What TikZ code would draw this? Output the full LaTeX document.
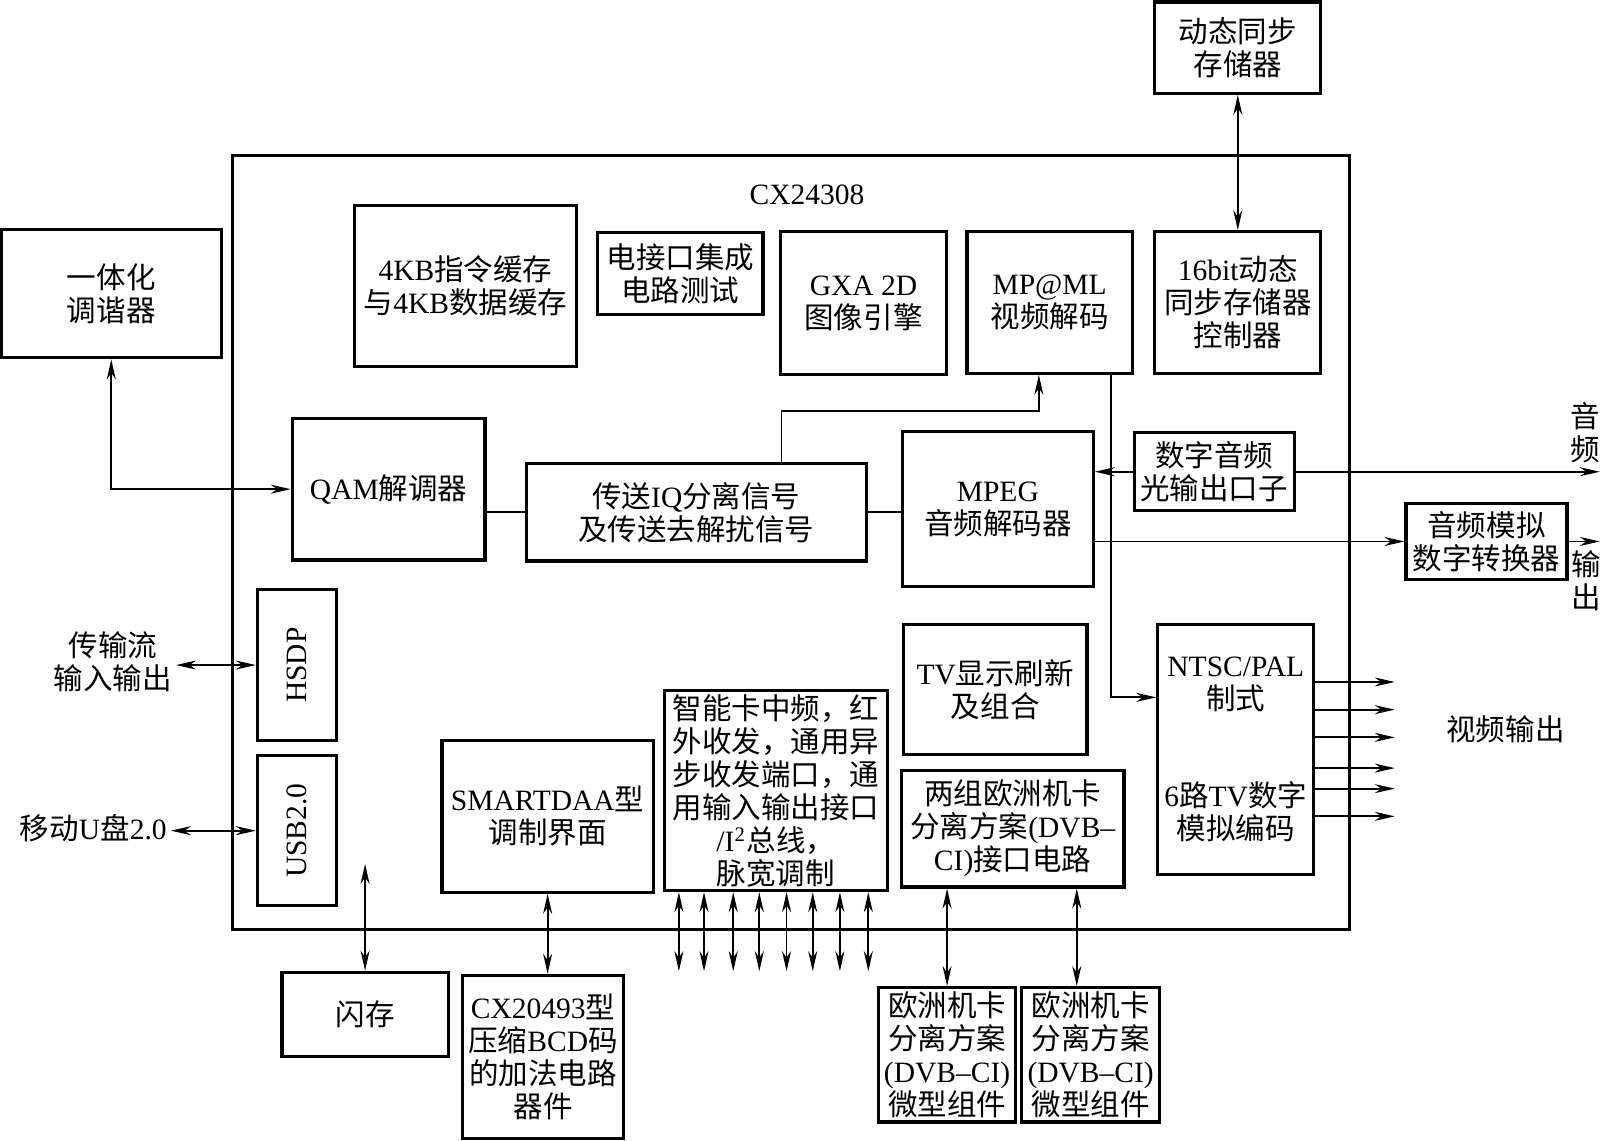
\documentclass[tikz,border=0pt]{standalone}
\usepackage{fontspec}
\usepackage{graphicx}
\setmainfont{Liberation Serif}
\newfontfamily\cjk{Noto Sans CJK SC}
\newcommand\zh[1]{{\cjk #1}}
\newlength\pxl
\setlength\pxl{0.10255mm}
\usetikzlibrary{arrows.meta}

\begin{document}
\begin{tikzpicture}[
  x=0.10255mm, y=-0.10255mm,
  font=\fontsize{8.4}{9.4}\selectfont,
  box/.style 2 args={draw, line width=0.9pt, align=center, inner sep=1pt,
    minimum width=#1*\pxl, minimum height=#2*\pxl},
  lbl/.style={align=center, inner sep=1pt},
  link/.style={line width=0.5pt},
  arrow/.style={-{Stealth[length=2mm,width=0.9mm]}, line width=0.5pt},
  darrow/.style={{Stealth[length=2mm,width=0.9mm]}-{Stealth[length=2mm,width=0.9mm]}, line width=0.5pt}
]
  \useasboundingbox (0,0) rectangle (1568,1112);

  \node[box={1089}{754}] (chip) at (771.5,529) {};
  \node[lbl] (chipname) at (787,190) {CX24308};

  \node[box={162}{89}] (dram) at (1207,46.5) {\zh{动态同步}\\\zh{存储器}};
  \node[box={215}{125}] (tuner) at (108.5,286.5) {\zh{一体化}\\\zh{调谐器}};
  \node[box={216}{157}] (cache) at (454,278.5) {4KB\zh{指令缓存}\\\zh{与}4KB\zh{数据缓存}};
  \node[box={161}{80}] (jtag) at (663.5,267) {\zh{电接口集成}\\\zh{电路测试}};
  \node[box={162}{139}] (gxa) at (842,295.5) {GXA 2D\\\zh{图像引擎}};
  \node[box={161}{138}] (mpml) at (1023.5,295) {MP@ML\\\zh{视频解码}};
  \node[box={162}{138}] (sdramc) at (1207,295) {16bit\zh{动态}\\\zh{同步存储器}\\\zh{控制器}};

  \node[box={188}{138}] (qam) at (379,477) {QAM\zh{解调器}};
  \node[box={332}{95}] (iq) at (679,499.5) {\zh{传送}IQ\zh{分离信号}\\\zh{及传送去解扰信号}};
  \node[box={186}{151}] (mpeg) at (973,496.5) {MPEG\\\zh{音频解码器}};
  \node[box={156}{76}] (spdif) at (1184,460) {\zh{数字音频}\\\zh{光输出口子}};
  \node[box={157}{74}] (dac) at (1449.5,528) {\zh{音频模拟}\\\zh{数字转换器}};

  \node[box={77}{147}] (hsdp) at (289.5,648.5) {\rotatebox{90}{HSDP}};
  \node[box={77}{146}] (usb) at (289.5,810) {\rotatebox{90}{USB2.0}};
  \node[box={206}{148}] (smart) at (534,796) {SMARTDAA\zh{型}\\\zh{调制界面}};
  \node[box={217}{186}] (periph) at (756.5,771)
    {\zh{智能卡中频，红}\\\zh{外收发，通用异}\\\zh{步收发端口，通}\\\zh{用输入输出接口}\\/I\textsuperscript{2}\zh{总线，}\\\zh{脉宽调制}};
  \node[box={179}{127}] (tvd) at (970.5,672.5) {TV\zh{显示刷新}\\\zh{及组合}};
  \node[box={217}{114}] (ci) at (987.5,808) {\zh{两组欧洲机卡}\\\zh{分离方案}(DVB--\\CI)\zh{接口电路}};
  \node[box={152}{244}] (enc) at (1205,731) {NTSC/PAL\\\zh{制式}\\[6.4mm]6\zh{路}TV\zh{数字}\\\zh{模拟编码}};

  \node[box={162}{82}] (flash) at (356,989) {\zh{闪存}};
  \node[box={157}{159}] (bcd) at (529.5,1030.5) {CX20493\zh{型}\\\zh{压缩}BCD\zh{码}\\\zh{的加法电路}\\\zh{器件}};
  \node[box={133}{131}] (cia) at (923.5,1028.5) {\zh{欧洲机卡}\\\zh{分离方案}\\(DVB--CI)\\\zh{微型组件}};
  \node[box={135}{131}] (cib) at (1063.5,1028.5) {\zh{欧洲机卡}\\\zh{分离方案}\\(DVB--CI)\\\zh{微型组件}};

  \node[lbl] (stream) at (110,645) {\zh{传输流}\\\zh{输入输出}};
  \node[lbl] (udisk) at (91,808) {\zh{移动}U\zh{盘}2.0};
  \node[lbl] (vout) at (1468,711) {\zh{视频输出}};
  \node[lbl] (audtop) at (1546,422) {\zh{音}\\\zh{频}};
  \node[lbl] (audbot) at (1547,566) {\zh{输}\\\zh{出}};

  \coordinate (iqbend) at (1013,401);
  \coordinate (optend) at (1560,460);
  \coordinate (dacend) at (1560,528);

  \draw[darrow] (dram) -- (sdramc);
  \draw[darrow] (tuner.south) |- (qam.west);
  \draw[link] (iq.west -| qam.east) -- (iq.west);
  \draw[link] (iq.east) -- (iq.east -| mpeg.west);
  \draw[arrow] ([xshift=83\pxl]iq.north) |- (iqbend) -- (iqbend |- mpml.south);
  \draw[arrow] (spdif.west) -- (spdif.west -| mpeg.east);
  \draw[arrow] (spdif.east) -- (optend);
  \draw[arrow] (mpeg.east |- dac.west) -- (dac.west);
  \draw[arrow] (dac.east) -- (dacend);
  \draw[arrow] ([xshift=59.5\pxl]mpml.south) |- ([yshift=51\pxl]enc.west);
  \foreach \y in {665,692,719,749,769,796}
    \draw[arrow] (enc.east |- 0,\y) -- (1360,\y);

  \draw[darrow] (stream.east |- hsdp.west) -- (hsdp.west);
  \draw[darrow] (udisk.east |- usb.west) -- (usb.west);
  \draw[darrow] (flash.north) -- ++(0,-104);
  \draw[darrow] (smart.south) -- (smart.south |- bcd.north);
  \foreach \x in {662,686.5,715,740.4,767,792.5,819,846.7}
    \draw[darrow] (\x,0 |- periph.south) -- (\x,947);
  \draw[darrow] (cia.north |- ci.south) -- (cia.north);
  \draw[darrow] ([xshift=-13.5\pxl]cib.north |- ci.south) -- ([xshift=-13.5\pxl]cib.north);
\end{tikzpicture}
\end{document}
